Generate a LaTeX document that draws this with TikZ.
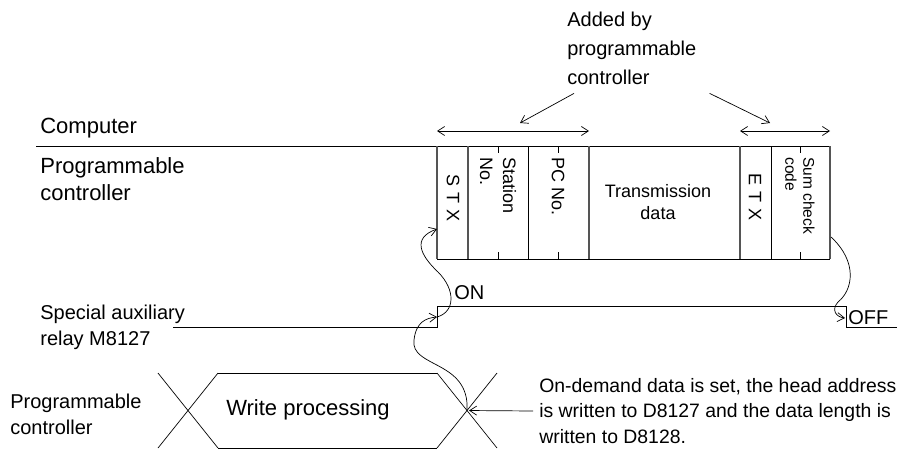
\documentclass[tikz,border=0pt]{standalone}
\usepackage{fontspec}
\setmainfont{Liberation Sans}
\usetikzlibrary{arrows.meta}
\definecolor{framegray}{RGB}{85,85,85}

\tikzset{
  toplbl/.style={font=\fontsize{22}{27}\selectfont, align=left, inner sep=0pt},
  sidelbl/.style={font=\fontsize{20}{26}\selectfont, align=left, inner sep=0pt},
  field/.style={font=\fontsize{18}{23}\selectfont, rotate=-90, anchor=west, align=left, inner sep=0pt},
  divider/.style={framegray, line width=1.4pt},
}

\begin{document}
\begin{tikzpicture}[x=1pt, y=-1pt, >={Straight Barb[length=7pt,width=9pt]}, line width=0.7pt]
  \useasboundingbox (0,0) rectangle (897,450);

  % --- Line labels ---
  \node[toplbl, anchor=west] (computer) at (40,128) {Computer};
  \node[toplbl, anchor=west] (pc) at (40,179) {Programmable\\controller};
  \node[sidelbl, anchor=west] (relay) at (40,327) {Special auxiliary\\relay M8127};
  \node[sidelbl, anchor=west] (pclow) at (10,414) {Programmable\\controller};

  % --- Computer / PC line and message frame ---
  \draw (36,146) -- (830,146);
  \draw (437,259) -- (830,259);
  \foreach \x in {437,468,589,740,830}
    \draw[divider] (\x,146) -- (\x,259);
  \foreach \x in {528,771}
    \draw (\x,146) -- (\x,259);
  \foreach \x in {498,558,800} {
    \draw (\x,146) -- (\x,153);
    \draw (\x,252) -- (\x,259);
  }

  % Field texts
  \node[field, anchor=center] (stx) at (453,198) {S\,\,T\,\,X};
  \node[field] (station) at (498,157) {Station\\No.};
  \node[field] (pcno) at (558,157) {PC No.};
  \node[font=\fontsize{18}{22}\selectfont, align=center, inner sep=0pt] (data) at (658,202) {Transmission\\data};
  \node[field, anchor=center] (etx) at (755,197) {E\,\,T\,\,X};
  \node[field, font=\fontsize{15.5}{18}\selectfont] (sum) at (800,157) {Sum check\\code};

  % --- Parts added by the PC ---
  \coordinate (hdrL) at (437,131);
  \coordinate (hdrR) at (589,131);
  \coordinate (tlrL) at (740,131);
  \coordinate (tlrR) at (830,131);
  \draw[<->] (hdrL) -- (hdrR);
  \draw[<->] (tlrL) -- (tlrR);

  \node[font=\fontsize{20}{29}\selectfont, align=left, inner sep=0pt, anchor=north west] (added) at (567,12)
    {Added by\\programmable\\controller};
  \coordinate (hdrmid) at (520,123);
  \coordinate (tlrmid) at (770,123);
  \draw[->] ([xshift=7pt,yshift=-8pt]added.south west) -- (hdrmid);
  \draw[->] ([xshift=13pt,yshift=-8pt]added.south east) -- (tlrmid);

  % --- Special auxiliary relay signal ---
  \draw (173,327) -- (437,327) -- (437,306) -- (846,306) -- (846,327) -- (897,327);
  \node[sidelbl, anchor=west] (on) at (454,293) {ON};
  \node[sidelbl, anchor=west] (off) at (848,318) {OFF};

  % --- Write processing ---
  \draw (158,373) -- (218,448) (158,448) -- (218,373);
  \draw (218,373) -- (437,373) (218,448) -- (437,448);
  \draw (437,373) -- (497,448) (437,448) -- (497,373);
  \node[toplbl] (write) at (308,410) {Write processing};
  \coordinate (wend) at (467,410.5);

  \node[sidelbl, font=\fontsize{19.4}{25.5}\selectfont, anchor=west] (note) at (539,411)
    {On-demand data is set, the head address\\is written to D8127 and the data length is\\written to D8128.};
  \draw[->, shorten >=2pt] ([xshift=-6pt]note.west) -- (wend);

  % --- Transfer sequence ---
  \coordinate (rise) at (437,317);
  \coordinate (stxin) at (437,229);
  \coordinate (sumout) at (831,237);
  \coordinate (fall) at (845,318);
  \draw[->] (wend) .. controls (470,360) and (410,368) .. (414,340)
    .. controls (416,322) and (426,318) .. (rise);
  \draw[->] (rise) .. controls (455,312) and (456,290) .. (438,272)
    .. controls (420,255) and (412,238) .. (stxin);
  \draw[->] (sumout) .. controls (858,262) and (853,290) .. (838,302)
    .. controls (831,310) and (836,317) .. (fall);

\end{tikzpicture}
\end{document}
